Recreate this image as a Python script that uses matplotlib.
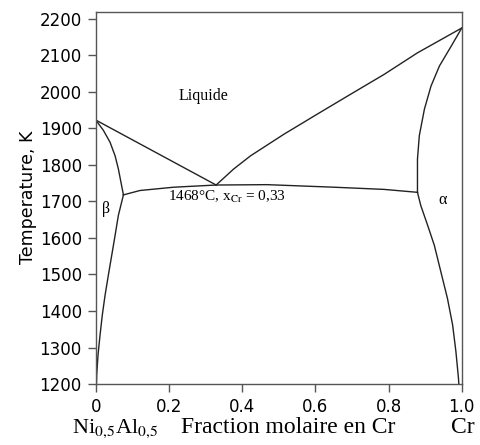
import matplotlib
matplotlib.use("Agg")
import matplotlib.pyplot as plt

plt.rcParams["font.family"] = ["DejaVu Sans"]
plt.rcParams["mathtext.fontset"] = "stix"

# liquidus, Ni0.5Al0.5 side down to eutectic
liq_left_x = [0.0, 0.329]
liq_left_t = [1923, 1745]

# liquidus, Cr side
liq_right_x = [0.329, 0.377, 0.423, 0.514, 0.605, 0.697, 0.788, 0.879, 1.0]
liq_right_t = [1745, 1789, 1825, 1884, 1939, 1994, 2048, 2107, 2175]

# beta solidus
beta_sol_x = [0.0, 0.0208, 0.0392, 0.0529, 0.0619, 0.0685, 0.0757]
beta_sol_t = [1923, 1895, 1862, 1825, 1789, 1755, 1718]

# beta solvus
beta_solv_x = [0.0757, 0.0619, 0.0529, 0.0438, 0.0345, 0.0255, 0.018, 0.0118, 0.0063, 0.0027, 0.002]
beta_solv_t = [1718, 1662, 1607, 1553, 1498, 1443, 1389, 1334, 1280, 1225, 1200]

# eutectic line
eut_x = [0.0757, 0.121, 0.213, 0.329, 0.468, 0.651, 0.788, 0.879]
eut_t = [1718, 1730, 1739, 1745, 1746, 1739, 1733, 1725]

# alpha solidus
alpha_sol_x = [1.0, 0.971, 0.939, 0.916, 0.898, 0.884, 0.879, 0.879, 0.879]
alpha_sol_t = [2175, 2125, 2071, 2016, 1953, 1880, 1816, 1771, 1725]

# alpha solvus
alpha_solv_x = [0.879, 0.888, 0.907, 0.925, 0.943, 0.961, 0.975, 0.984, 0.991, 0.992]
alpha_solv_t = [1725, 1689, 1634, 1580, 1507, 1434, 1362, 1289, 1216, 1200]

xticks = [0, 0.2, 0.4, 0.6, 0.8, 1.0]
xticklabels = ["0", "0.2", "0.4", "0.6", "0.8", "1.0"]
yticks = [1200, 1300, 1400, 1500, 1600, 1700, 1800, 1900, 2000, 2100, 2200]

fig = plt.figure(figsize=(4.81, 4.45), dpi=100)
ax = fig.add_axes([0.199, 0.137, 0.761, 0.837])

lw = 1.0
for xs, ts in [(liq_left_x, liq_left_t), (liq_right_x, liq_right_t),
               (beta_sol_x, beta_sol_t), (beta_solv_x, beta_solv_t),
               (eut_x, eut_t), (alpha_sol_x, alpha_sol_t),
               (alpha_solv_x, alpha_solv_t)]:
    ax.plot(xs, ts, color="#222222", linewidth=lw)

ax.set_xlim(0, 1.0)
ax.set_ylim(1200, 2220)
ax.set_xticks(xticks)
ax.set_xticklabels(xticklabels)
ax.set_yticks(yticks)
ax.tick_params(labelsize=12, length=6, width=1, color="#555555", pad=4)
for s in ax.spines.values():
    s.set_color("#555555")
    s.set_linewidth(1.0)

ax.set_ylabel("Temperature, K", fontsize=12.5, labelpad=2)

serif = ["Liberation Serif", "DejaVu Serif"]
ax.text(0.294, 1988, "Liquide", family=serif, fontsize=11.5, ha="center", va="center")
ax.text(0.028, 1680, "β", family=serif, fontsize=11.5, ha="center", va="center")
ax.text(0.948, 1703, "α", family=serif, fontsize=11.5, ha="center", va="center")
ax.text(0.198, 1712, r"1468°C, x$_{\rm Cr}$ = 0,33", family=serif, fontsize=11,
        ha="left", va="center")

fig.text(0.240, 0.027, r"Ni$_{0{,}5}$Al$_{0{,}5}$", family=serif, fontsize=16,
         ha="center", va="baseline")
fig.text(0.600, 0.027, "Fraction molaire en Cr", family=serif, fontsize=17,
         ha="center", va="baseline")
fig.text(0.963, 0.027, "Cr", family=serif, fontsize=17, ha="center", va="baseline")

fig.savefig("out.png", dpi=100)
